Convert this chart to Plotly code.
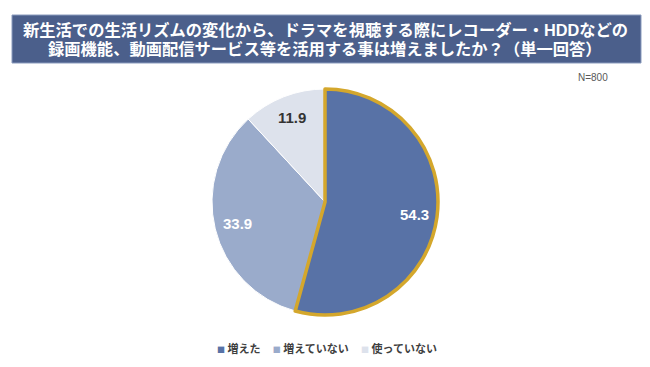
import math
import plotly.graph_objects as go

categories = ["増えた", "増えていない", "使っていない"]
values = [54.3, 33.9, 11.9]
colors = ["#5872a6", "#9aabcb", "#dde2ec"]
text_colors = ["#ffffff", "#ffffff", "#333333"]
title_lines = ["新生活での生活リズムの変化から、ドラマを視聴する際にレコーダー・HDDなどの",
               "録画機能、動画配信サービス等を活用する事は増えましたか？（単一回答）"]
n_text = "N=800"

W, H = 650, 367
cx, cy, r = 325, 202, 113
dom_x = [(cx - r) / W, (cx + r) / W]
dom_y = [1 - (cy + r) / H, 1 - (cy - r) / H]

fig = go.Figure()
fig.add_trace(go.Pie(
    labels=categories, values=values, sort=False, direction="clockwise", rotation=0,
    marker=dict(colors=colors, line=dict(color="#ffffff", width=1)),
    textinfo="none", showlegend=False,
    domain=dict(x=dom_x, y=dom_y), hoverinfo="label+value",
))
# highlight outline of first slice
fig.add_trace(go.Pie(
    labels=["hl", "rest"], values=[values[0], sum(values[1:])], sort=False,
    direction="clockwise", rotation=0,
    marker=dict(colors=["rgba(0,0,0,0)", "rgba(0,0,0,0)"],
                line=dict(color=["#d4a72c", "rgba(0,0,0,0)"], width=[3.5, 0])),
    textinfo="none", showlegend=False, hoverinfo="skip",
    domain=dict(x=dom_x, y=dom_y),
))

# value labels placed along each slice's mid-angle
total = sum(values)
cum = 0
for v, tc in zip(values, text_colors):
    mid = (cum + v / 2) / total * 2 * math.pi
    cum += v
    lx = cx + 0.8 * r * math.sin(mid)
    ly = cy - 0.8 * r * math.cos(mid)
    fig.add_annotation(x=lx / W, y=1 - ly / H, xref="paper", yref="paper",
                       text="<b>%.1f</b>" % v, showarrow=False,
                       font=dict(family="Liberation Sans, Arial", size=15, color=tc),
                       xanchor="center", yanchor="middle")

fig.add_shape(type="rect", xref="paper", yref="paper",
              x0=12 / W, x1=641 / W, y0=1 - 63 / H, y1=1 - 15 / H,
              fillcolor="#4b5f8b", line=dict(color="#8a9bbd", width=1), layer="below")
for i, line in enumerate(title_lines):
    fig.add_annotation(x=325 / W, y=1 - (29.5 + 19 * i) / H, xref="paper", yref="paper",
                       text="<b>" + line + "</b>", showarrow=False,
                       font=dict(family="Liberation Sans, Noto Sans CJK JP", size=16.3, color="#ffffff"),
                       xanchor="center", yanchor="middle")
fig.add_annotation(x=593 / W, y=1 - 77 / H, xref="paper", yref="paper",
                   text=n_text, showarrow=False,
                   font=dict(family="Liberation Sans, Arial", size=10, color="#595959"),
                   xanchor="center", yanchor="middle")

# legend row
parts = []
for c, col in zip(categories, colors):
    parts.append('<span style="color:%s;font-size:8px">■</span> <b>%s</b>' % (col, c))
fig.add_annotation(x=327 / W, y=1 - 348 / H, xref="paper", yref="paper",
                   text="     ".join(parts), showarrow=False,
                   font=dict(family="Noto Sans CJK JP", size=11, color="#404040"),
                   xanchor="center", yanchor="middle")

fig.update_layout(
    width=W, height=H, margin=dict(l=0, r=0, t=0, b=0),
    paper_bgcolor="#ffffff", plot_bgcolor="#ffffff", showlegend=False,
)
fig.write_html("out.html", config={"displayModeBar": False},
               post_script="document.body.style.margin='0';")
